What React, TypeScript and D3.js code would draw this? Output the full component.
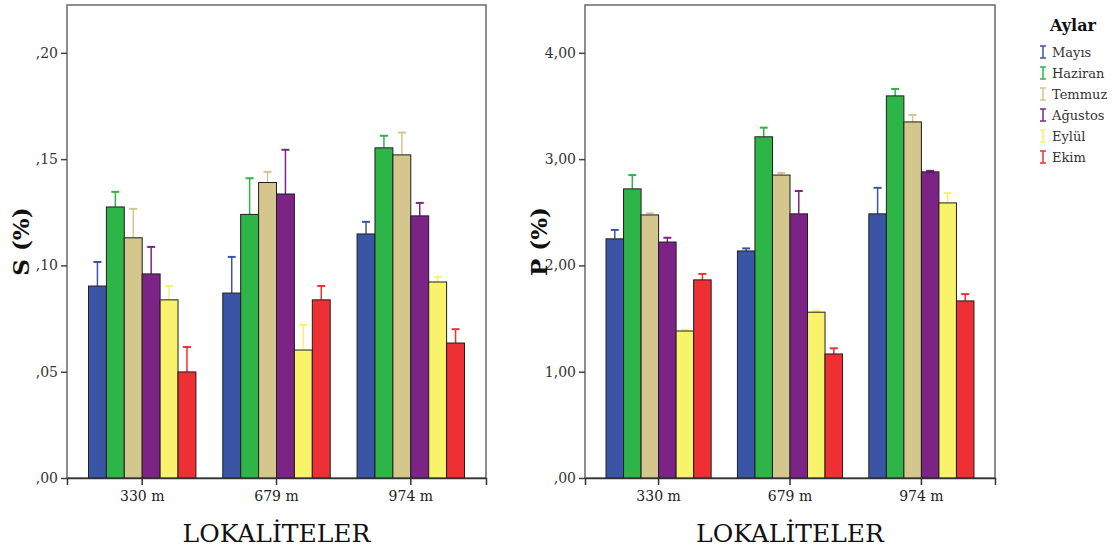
import { useEffect, useRef } from 'react'
import * as d3 from 'd3'

// Locations and months
const locations = ['330 m', '679 m', '974 m']
const months = ['Mayıs', 'Haziran', 'Temmuz', 'Ağustos', 'Eylül', 'Ekim']
const monthColors = ['#3a55a6', '#2eb548', '#d3c78e', '#7b2486', '#f9f36b', '#ee2f33']

// S (%) means and upper error limits, rows = locations, cols = months
const sMeans = [
  [0.0903, 0.1275, 0.113, 0.096, 0.0838, 0.0499],
  [0.087, 0.124, 0.139, 0.1336, 0.0602, 0.0838],
  [0.1148, 0.1553, 0.152, 0.1233, 0.0922, 0.0635],
]
const sUpper = [
  [0.1016, 0.1346, 0.1266, 0.1087, 0.0903, 0.0616],
  [0.104, 0.141, 0.144, 0.1544, 0.072, 0.0903],
  [0.1205, 0.161, 0.1625, 0.1294, 0.0946, 0.07],
]
const sTicks = [0, 0.05, 0.1, 0.15, 0.2]

// P (%) means and upper error limits
const pMeans = [
  [2.25, 2.72, 2.475, 2.22, 1.383, 1.864],
  [2.136, 3.21, 2.85, 2.485, 1.56, 1.167],
  [2.485, 3.595, 3.35, 2.88, 2.588, 1.666],
]
const pUpper = [
  [2.334, 2.85, 2.49, 2.26, 1.395, 1.92],
  [2.16, 3.296, 2.87, 2.7, 1.575, 1.22],
  [2.73, 3.66, 3.415, 2.89, 2.68, 1.73],
]
const pTicks = [0, 1, 2, 3, 4]

const serif = "'DejaVu Serif', serif"

function fmt(v: number) {
  let s = d3.format('.2f')(v)
  if (s.startsWith('0')) s = s.slice(1)
  return s.replace('.', ',')
}

function drawPanel(svg: any, opts: any) {
  const { x0, x1, y0, y1, yMax, means, upper, ticks, label } = opts
  const g = svg.append('g')

  const x = d3.scaleBand<string>().domain(locations).range([x0, x1])
    .paddingInner(0.2).paddingOuter(0.16)
  const xi = d3.scaleBand<string>().domain(months).range([0, x.bandwidth()])
  const y = d3.scaleLinear().domain([0, yMax]).range([y1, y0])

  // frame
  g.append('rect')
    .attr('x', x0).attr('y', y0)
    .attr('width', x1 - x0).attr('height', y1 - y0)
    .attr('fill', 'none').attr('stroke', '#6a6a6a').attr('stroke-width', 1.5)

  // error bars (upper half only, lower half sits behind the bar)
  locations.forEach((loc, li) => {
    months.forEach((m, mi) => {
      const cx = x(loc)! + xi(m)! + xi.bandwidth() / 2
      const color = monthColors[mi]
      g.append('line')
        .attr('x1', cx).attr('x2', cx)
        .attr('y1', y(means[li][mi])).attr('y2', y(upper[li][mi]))
        .attr('stroke', color).attr('stroke-width', 1.5)
      g.append('line')
        .attr('x1', cx - 4).attr('x2', cx + 4)
        .attr('y1', y(upper[li][mi])).attr('y2', y(upper[li][mi]))
        .attr('stroke', color).attr('stroke-width', 2)
    })
  })

  // bars
  locations.forEach((loc, li) => {
    g.append('g')
      .selectAll('rect')
      .data(means[li])
      .join('rect')
      .attr('x', (_d: number, i: number) => x(loc)! + xi(months[i])!)
      .attr('y', (d: number) => y(d))
      .attr('width', xi.bandwidth())
      .attr('height', (d: number) => y1 - y(d))
      .attr('fill', (_d: number, i: number) => monthColors[i])
      .attr('stroke', '#1e1e1e').attr('stroke-width', 1)
  })

  // y axis
  g.append('g')
    .attr('transform', `translate(${x0},0)`)
    .call(d3.axisLeft(y).tickValues(ticks).tickFormat((d: any) => fmt(d)).tickSize(6).tickPadding(3))
    .call((ax: any) => ax.attr('font-family', null))
    .call((ax: any) => ax.select('.domain').remove())
    .call((ax: any) => ax.selectAll('line').attr('stroke', '#444').attr('stroke-width', 1.5))
    .call((ax: any) => ax.selectAll('text')
      .attr('fill', '#333').style('font-family', serif).style('font-size', '14px'))

  // x axis
  g.append('g')
    .attr('transform', `translate(0,${y1})`)
    .call(d3.axisBottom(x).tickSize(7).tickPadding(6))
    .call((ax: any) => ax.attr('font-family', null))
    .call((ax: any) => ax.select('.domain').attr('stroke', '#333').attr('stroke-width', 1.5))
    .call((ax: any) => ax.selectAll('line').attr('stroke', '#333').attr('stroke-width', 1.5))
    .call((ax: any) => ax.selectAll('text')
      .attr('fill', '#222').style('font-family', serif).style('font-size', '14px'))

  // axis titles
  g.append('text')
    .attr('x', (x0 + x1) / 2).attr('y', 542)
    .attr('text-anchor', 'middle')
    .style('font-family', serif).style('font-size', '25px').attr('fill', '#111')
    .text('LOKALİTELER')

  g.append('text')
    .attr('transform', `translate(${x0 - 38},${(y0 + y1) / 2}) rotate(-90)`)
    .attr('text-anchor', 'middle')
    .style('font-family', serif).style('font-size', '23px').style('font-weight', 'bold').attr('fill', '#111')
    .text(label)
}

export default function App() {
  const svgRef = useRef<SVGSVGElement>(null)

  useEffect(() => {
    const el = svgRef.current
    if (!el) return
    const svg = d3.select(el)
    svg.selectAll('*').remove()

    drawPanel(svg, {
      x0: 67, x1: 486, y0: 5, y1: 478, yMax: 0.2225,
      means: sMeans, upper: sUpper, ticks: sTicks, label: 'S (%)',
    })
    drawPanel(svg, {
      x0: 585, x1: 995, y0: 5, y1: 478, yMax: 4.45,
      means: pMeans, upper: pUpper, ticks: pTicks, label: 'P (%)',
    })

    // legend
    const lg = svg.append('g')
    lg.append('text')
      .attr('x', 1073).attr('y', 31)
      .attr('text-anchor', 'middle')
      .style('font-family', serif).style('font-size', '16px').style('font-weight', 'bold').attr('fill', '#111')
      .text('Aylar')
    months.forEach((m, i) => {
      const cy = 52 + i * 21
      const color = monthColors[i]
      lg.append('line').attr('x1', 1043).attr('x2', 1043).attr('y1', cy - 6).attr('y2', cy + 6)
        .attr('stroke', color).attr('stroke-width', 1.5)
      ;[cy - 6, cy + 6].forEach(yy => {
        lg.append('line').attr('x1', 1040).attr('x2', 1046).attr('y1', yy).attr('y2', yy)
          .attr('stroke', color).attr('stroke-width', 1.5)
      })
      lg.append('text')
        .attr('x', 1052).attr('y', cy + 5)
        .style('font-family', serif).style('font-size', '13px').attr('fill', '#333')
        .text(m)
    })
  }, [])

  return (
    <svg
      ref={svgRef}
      width={1118}
      height={549}
      style={{ position: 'absolute', left: 0, top: 0, background: '#fff' }}
    />
  )
}
